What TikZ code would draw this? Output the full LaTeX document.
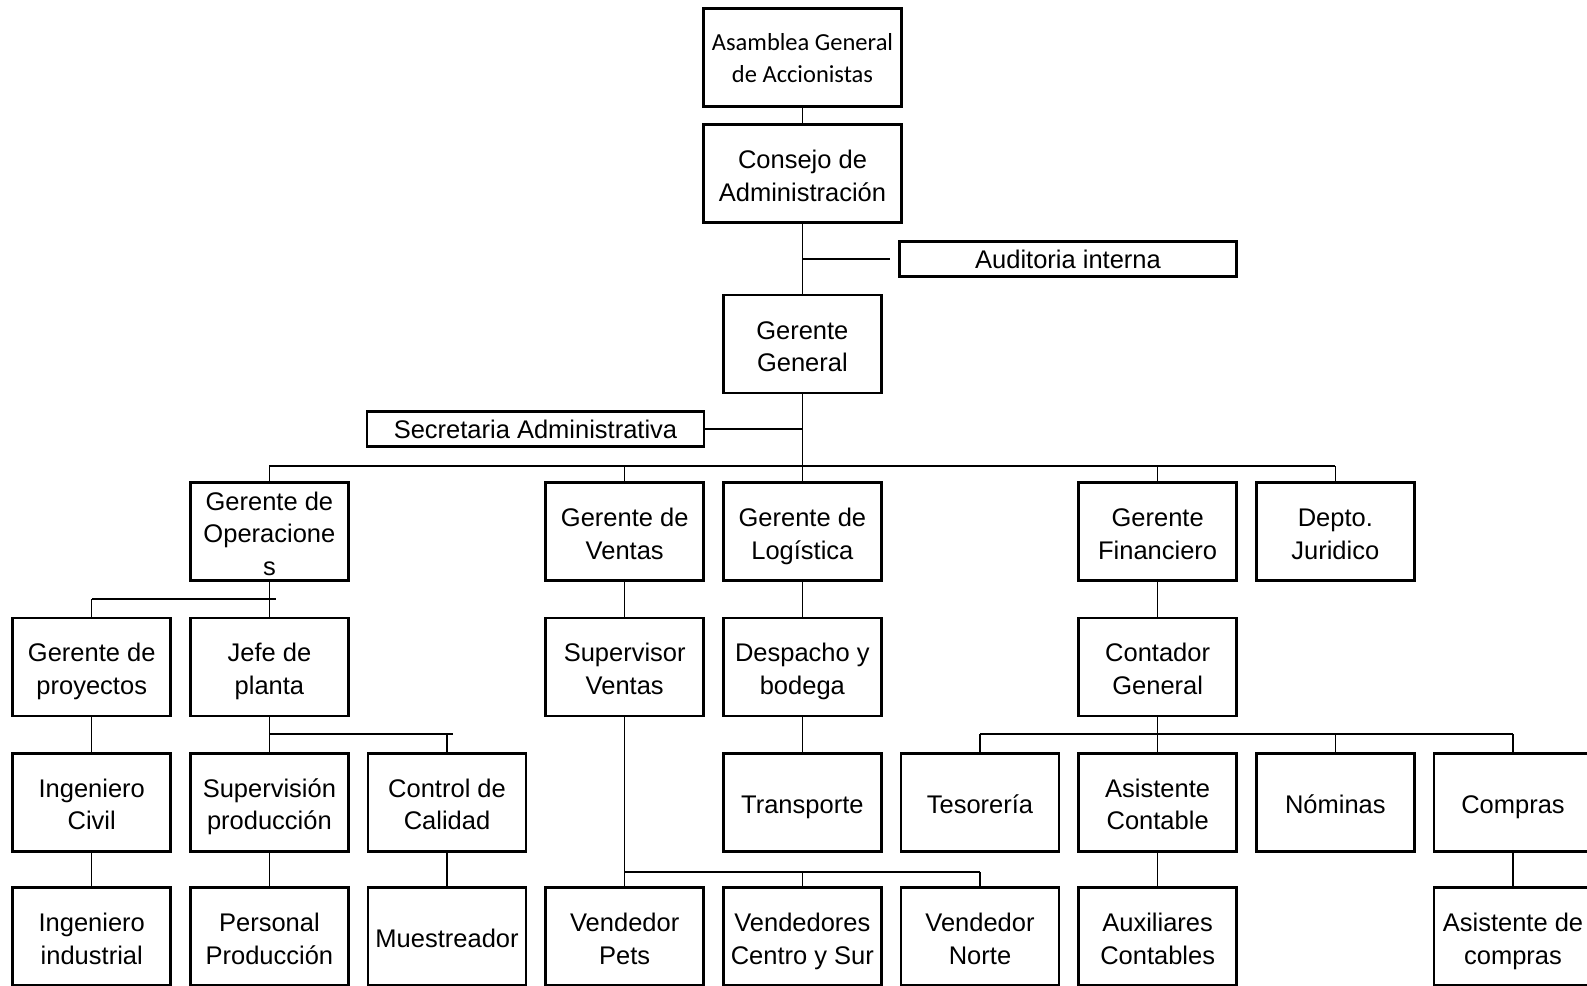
\documentclass[tikz,border=0pt]{standalone}
\usepackage{fontspec}
\setmainfont{Liberation Sans}
\newfontfamily\calibrifont{Carlito}
\newcommand\tx[2][4.8pt]{\raisebox{-#1}[\height][\depth]{\begin{tabular}{@{}c@{}}#2\end{tabular}}}
\tikzset{
  box/.style={draw, line width=2.6pt, minimum width=158pt, minimum height=98pt, inner sep=0pt,
    font=\fontsize{25.5}{32.5}\selectfont},
  wbox/.style={box, minimum width=198pt},
  flat/.style={draw, line width=2.6pt, minimum width=337pt, minimum height=35pt, inner sep=0pt,
    font=\fontsize{25.5}{30}\selectfont},
  conn/.style={line width=1.2pt},
}
\begin{document}
\begin{tikzpicture}[x=1pt,y=-1pt]
\useasboundingbox (0,0) rectangle (1587,985);
\clip (0,0) rectangle (1587,985);
% top
\node[wbox, font=\calibrifont\fontsize{24.5}{31.7}\selectfont] (asam) at (802.5,57.5) {\tx[3pt]{Asamblea General\\de Accionistas}};
\node[wbox] (cons) at (802.5,173.5) {\tx{Consejo de\\Administración}};
\node[flat] (audit) at (1068,259) {Auditoria interna};
\node[box] (gg) at (802.35,344) {\tx{Gerente\\General}};
\node[flat] (secr) at (535.5,429) {Secretaria Administrativa};
% row 1
\node[box] (go) at (269.4,531.5) {\tx{Gerente de\\Operacione\\s}};
\node[box] (gv) at (624.7,531.5) {\tx{Gerente de\\Ventas}};
\node[box] (gl) at (802.35,531.5) {\tx{Gerente de\\Logística}};
\node[box] (gf) at (1157.65,531.5) {\tx{Gerente\\Financiero}};
\node[box] (dj) at (1335.3,531.5) {\tx{Depto.\\Juridico}};
% row 2
\node[box] (gp) at (91.75,666.8) {\tx{Gerente de\\proyectos}};
\node[box] (jp) at (269.4,666.8) {\tx{Jefe de\\planta}};
\node[box] (sv) at (624.7,666.8) {\tx{Supervisor\\Ventas}};
\node[box] (db) at (802.35,666.8) {\tx{Despacho y\\bodega}};
\node[box] (cg) at (1157.65,666.8) {\tx{Contador\\General}};
% row 3
\node[box] (ic) at (91.75,802.2) {\tx{Ingeniero\\Civil}};
\node[box] (sp) at (269.4,802.2) {\tx{Supervisión\\producción}};
\node[box] (cc) at (447.05,802.2) {\tx{Control de\\Calidad}};
\node[box] (tr) at (802.35,802.2) {\tx{Transporte}};
\node[box] (te) at (980,802.2) {\tx{Tesorería}};
\node[box] (ac) at (1157.65,802.2) {\tx{Asistente\\Contable}};
\node[box] (no) at (1335.3,802.2) {\tx{Nóminas}};
\node[box] (co) at (1513,802.2) {\tx{Compras}};
% row 4
\node[box] (ii) at (91.75,936.5) {\tx{Ingeniero\\industrial}};
\node[box] (pp) at (269.4,936.5) {\tx{Personal\\Producción}};
\node[box] (mu) at (447.05,936.5) {\tx{Muestreador}};
\node[box] (vp) at (624.7,936.5) {\tx{Vendedor\\Pets}};
\node[box] (vc) at (802.35,936.5) {\tx{Vendedores\\Centro y Sur}};
\node[box] (vn) at (980,936.5) {\tx{Vendedor\\Norte}};
\node[box] (ax) at (1157.65,936.5) {\tx{Auxiliares\\Contables}};
\node[box] (as) at (1513,936.5) {\tx{Asistente de\\compras}};
% bus levels
\coordinate (yA) at (0,466);
\coordinate (yB) at (0,599);
\coordinate (yC) at (0,734);
\coordinate (yD) at (0,872);
% connectors
\draw[conn] (asam.south) -- (cons.north);
\draw[conn] (cons.south) -- (cons.south |- gg.north);
\draw[conn] (cons.south |- audit.west) -- ([xshift=-8pt]audit.west);
\draw[conn] (secr.east) -- (gg.south |- secr.east);
\draw[conn] (gg.south) -- (gg.south |- yA);
\draw[conn] (go.north |- yA) -- (dj.north |- yA);
\foreach \n in {go,gv,gl,gf,dj} \draw[conn] (\n.north |- yA) -- (\n.north);
% operaciones
\draw[conn] (go.south) -- (jp.north);
\draw[conn] (gp.north |- yB) -- ([xshift=7pt]go.south |- yB);
\draw[conn] (gp.north |- yB) -- (gp.north);
\draw[conn] (gp.south) -- (ic.north);
\draw[conn] (ic.south) -- (ii.north);
\draw[conn] (jp.south) -- (sp.north);
\draw[conn] (jp.south |- yC) -- ([xshift=6pt]cc.north |- yC);
\draw[conn] (cc.north |- yC) -- (cc.north);
\draw[conn] (sp.south) -- (pp.north);
\draw[conn] (cc.south) -- (mu.north);
% ventas
\draw[conn] (gv.south) -- (sv.north);
\draw[conn] (sv.south) -- (vp.north);
\draw[conn] (vp.north |- yD) -- (vn.north |- yD);
\draw[conn] (vc.north |- yD) -- (vc.north);
\draw[conn] (vn.north |- yD) -- (vn.north);
% logistica
\draw[conn] (gl.south) -- (db.north);
\draw[conn] (db.south) -- (tr.north);
% financiero
\draw[conn] (gf.south) -- (cg.north);
\draw[conn] (cg.south) -- (ac.north);
\draw[conn] (te.north |- yC) -- (co.north |- yC);
\foreach \n in {te,no,co} \draw[conn] (\n.north |- yC) -- (\n.north);
\draw[conn] (ac.south) -- (ax.north);
\draw[conn] (co.south) -- (as.north);
\end{tikzpicture}
\end{document}
